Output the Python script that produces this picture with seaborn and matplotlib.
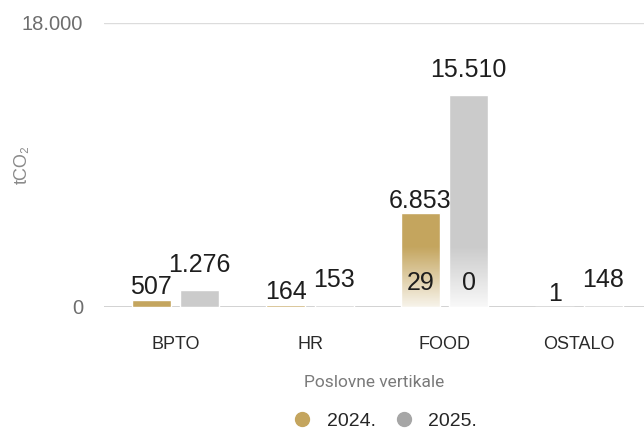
import numpy as np
import pandas as pd
import seaborn as sns
import matplotlib.pyplot as plt
from matplotlib.lines import Line2D

# data
categories = ['BPTO', 'HR', 'FOOD', 'OSTALO']
years = ['2024.', '2025.']
values_2024 = [507, 164, 6853, 1]
values_2025 = [1276, 153, 15510, 148]
# small labels sitting at the base of the FOOD bars
inner_category = 'FOOD'
inner_values = [29, 0]
# the top gridline of the reference is labelled 18.000 but sits at ~20.750 on the bar scale
y_ticks = [0, 20750]
y_tick_labels = ['0', '18.000']

gold = '#C4A55E'
gray = '#CBCBCB'
legend_gray = '#A6A6A6'

df = pd.DataFrame({
    'kategorija': categories * 2,
    'godina': [years[0]] * len(categories) + [years[1]] * len(categories),
    'tCO2': values_2024 + values_2025,
})

def fmt(v):
    return f"{v:,.0f}".replace(",", ".")

sns.set_style('white')
plt.rcParams['font.family'] = ['Liberation Sans', 'DejaVu Sans']

fig = plt.figure(figsize=(6.44, 4.30), dpi=100)
ax = fig.add_axes([104 / 644, 123 / 430, 540 / 644, 284 / 430])

sns.barplot(data=df, x='kategorija', y='tCO2', hue='godina',
            order=categories, hue_order=years, palette=[gold, gray],
            width=0.72, gap=0.2, saturation=1, legend=False, ax=ax)

# value labels above the bars
label_font = dict(size=18, color='#1e1e1e')
pads = [0.5, 9]
for cont, vals, pad in zip(ax.containers, [values_2024, values_2025], pads):
    ax.bar_label(cont, labels=[fmt(v) for v in vals], padding=pad, **label_font)

# fade of the FOOD bars towards the baseline + inner labels
idx = categories.index(inner_category)
fade = np.ones((100, 2, 4))
fade[..., 3] = np.linspace(0, 0.88, 100)[:, None]
for cont, v in zip(ax.containers, inner_values):
    p = cont[idx]
    x0, w = p.get_x(), p.get_width()
    ax.imshow(fade, extent=[x0, x0 + w, 0, 4400], origin='upper',
              aspect='auto', zorder=2.5, interpolation='bilinear')
    ax.annotate(fmt(v), (x0 + w / 2, 0), xytext=(0, 9), textcoords='offset points',
                ha='center', va='bottom', zorder=4, **label_font)

ax.set_xlim(-0.532, 3.483)
ax.set_ylim(0, y_ticks[-1])
ax.set_yticks(y_ticks)
ax.set_yticklabels(y_tick_labels)
ax.tick_params(axis='y', length=0, pad=15, labelsize=14.5, labelcolor='#6e6e6e')
ax.tick_params(axis='x', length=0, pad=21, labelsize=13, labelcolor='#2a2a2a')

ax.set_axisbelow(True)
ax.yaxis.grid(True, color='#dcdcdc', linewidth=1)
ax.axhline(0, color='#c8c8c8', linewidth=1.2, zorder=0.5)
sns.despine(ax=ax, left=True, bottom=True, right=True, top=True)

ax.set_xlabel('Poslovne vertikale', fontsize=12.5, color='#7a7a7a', labelpad=16,
              family=['Roboto', 'DejaVu Sans'])
ax.set_ylabel('tCO₂', fontsize=13, color='#8a8a8a')
ax.yaxis.set_label_coords(-0.135, 0.5)

handles = [Line2D([], [], marker='o', ls='', markersize=10, color=gold),
           Line2D([], [], marker='o', ls='', markersize=10, color=legend_gray)]
fig.legend(handles, years, loc='center', bbox_to_anchor=(0.59, 0.02), ncol=2,
           frameon=False, fontsize=14, handletextpad=0.25, columnspacing=0.45)

fig.savefig('out.png', dpi=100)
